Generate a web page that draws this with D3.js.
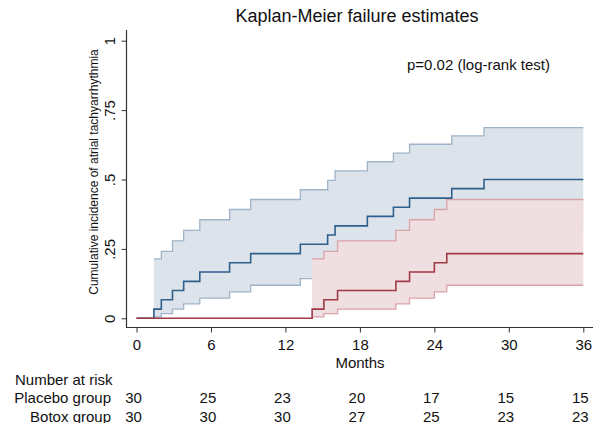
<!DOCTYPE html>
<html>
<head>
<meta charset="utf-8">
<script src="https://cdn.jsdelivr.net/npm/d3@7"></script>
<style>
  body { margin: 0; background: #fff; }
  svg text { font-family: "Liberation Sans", Arial, Helvetica, sans-serif; fill: #111; }
</style>
</head>
<body>
<svg id="chart" width="605" height="423"></svg>
<script>
// Placebo group: event times (months), failure estimate and 95% CI
var placeboTime = [1.4, 2.0, 2.9, 3.8, 5.1, 7.5, 9.2, 13.2, 15.4, 16.0, 18.6, 20.7, 22.0, 25.4, 28.0];
var placeboFail = [.033, .067, .1, .133, .167, .2, .233, .267, .3, .333, .367, .4, .433, .467, .5];
var placeboLo   = [.005, .017, .033, .052, .073, .095, .119, .143, .169, .195, .223, .251, .279, .309, .339];
var placeboHi   = [.214, .241, .279, .317, .355, .392, .428, .463, .497, .531, .564, .595, .627, .657, .687];

// Botox group
var botoxTime = [14.15, 15.1, 16.2, 20.9, 22.0, 24.0, 25.0];
var botoxFail = [.033, .067, .1, .133, .167, .2, .233];
var botoxLo   = [.005, .017, .033, .052, .073, .095, .119];
var botoxHi   = [.214, .241, .279, .317, .355, .392, .428];

// number at risk table
var riskTimes = [0, 6, 12, 18, 24, 30, 36];
var placeboRisk = [30, 25, 23, 20, 17, 15, 15];
var botoxRisk = [30, 30, 30, 27, 25, 23, 23];

var yTicks = [0, .25, .5, .75, 1];
var yTickLabels = ["0", ".25", ".5", ".75", "1"];
var tMax = 36;

var svg = d3.select("#chart");

var x = d3.scaleLinear().domain([0, tMax]).range([136.5, 583.3]);
var y = d3.scaleLinear().domain([0, 1]).range([318.3, 40.7]);

var plot = { left: 126.5, right: 593, top: 30, bottom: 327.5 };

// build step rows for a group
function rows(times, fail, lo, hi) {
    var r = times.map(function (t, i) {
        return { t: t, f: fail[i], lo: lo[i], hi: hi[i] };
    });
    var last = r[r.length - 1];
    r.push({ t: tMax, f: last.f, lo: last.lo, hi: last.hi });
    return r;
}

var placeboRows = rows(placeboTime, placeboFail, placeboLo, placeboHi);
var botoxRows = rows(botoxTime, botoxFail, botoxLo, botoxHi);

var area = d3.area().curve(d3.curveStepAfter)
    .x(d => x(d.t)).y0(d => y(d.lo)).y1(d => y(d.hi));
var lineLo = d3.line().curve(d3.curveStepAfter).x(d => x(d.t)).y(d => y(d.lo));
var lineHi = d3.line().curve(d3.curveStepAfter).x(d => x(d.t)).y(d => y(d.hi));
var lineF = d3.line().curve(d3.curveStepAfter).x(d => x(d.t)).y(d => y(d.f));

function drawCI(data, fill, edge) {
    svg.append("path").attr("d", area(data)).attr("fill", fill);
    svg.append("path").attr("d", lineLo(data)).attr("fill", "none")
        .attr("stroke", edge).attr("stroke-width", 1.3);
    svg.append("path").attr("d", lineHi(data)).attr("fill", "none")
        .attr("stroke", edge).attr("stroke-width", 1.3);
}

drawCI(placeboRows, "#dce3ea", "#9fb4c8");
drawCI(botoxRows, "#f0dfe0", "#d9a3a9");

function drawEst(data, color) {
    var pts = [{ t: 0, f: 0 }].concat(data);
    svg.append("path").attr("d", lineF(pts)).attr("fill", "none")
        .attr("stroke", color).attr("stroke-width", 1.6);
}

drawEst(placeboRows, "#2f5f8c");
drawEst(botoxRows, "#9e3a45");

// axes
var yAxis = svg.append("g")
    .attr("transform", `translate(${plot.left},0)`)
    .call(d3.axisLeft(y).tickValues(yTicks).tickSize(5)
        .tickFormat((d, i) => yTickLabels[i]));
yAxis.select(".domain").remove();
yAxis.selectAll("text")
    .attr("transform", "rotate(-90)")
    .attr("x", 0).attr("y", -11.5).attr("dy", 0)
    .attr("text-anchor", "middle")
    .style("font-size", "15px");

var xAxis = svg.append("g")
    .attr("transform", `translate(0,${plot.bottom})`)
    .call(d3.axisBottom(x).tickValues(riskTimes).tickSize(5));
xAxis.select(".domain").remove();
xAxis.selectAll("text").attr("y", 22).attr("dy", 0).style("font-size", "15px");

svg.selectAll(".tick line").attr("stroke", "#333");

svg.append("path")
    .attr("d", `M${plot.left},${plot.top}V${plot.bottom}H${plot.right}`)
    .attr("fill", "none").attr("stroke", "#333").attr("stroke-width", 1.2);

// titles
svg.append("text").attr("x", 357).attr("y", 22).attr("text-anchor", "middle")
    .style("font-size", "18px").text("Kaplan-Meier failure estimates");

svg.append("text").attr("x", 407).attr("y", 70)
    .style("font-size", "15px").text("p=0.02 (log-rank test)");

svg.append("text").attr("x", 360).attr("y", 368).attr("text-anchor", "middle")
    .style("font-size", "15px").text("Months");

svg.append("text")
    .attr("transform", "translate(98,172) rotate(-90)")
    .attr("text-anchor", "middle")
    .style("font-size", "12px")
    .text("Cumulative incidence of atrial tachyarrhythmia");

// number at risk
svg.append("text").attr("x", 15).attr("y", 385).style("font-size", "15px").text("Number at risk");

var groups = [
    { name: "Placebo group", risk: placeboRisk, base: 403 },
    { name: "Botox group", risk: botoxRisk, base: 421.5 }
];

groups.forEach(function (g) {
    svg.append("text").attr("x", 111).attr("y", g.base).attr("text-anchor", "end")
        .style("font-size", "15px").text(g.name);
    svg.selectAll(null)
        .data(g.risk)
        .enter().append("text")
        .attr("x", (d, i) => x(riskTimes[i]) - 3)
        .attr("y", g.base)
        .attr("text-anchor", "middle")
        .style("font-size", "15px")
        .text(d => d);
});
</script>
</body>
</html>
